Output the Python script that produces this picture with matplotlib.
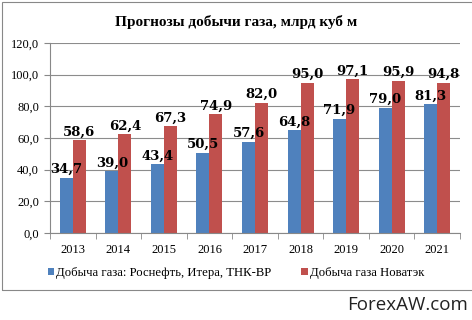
import matplotlib.pyplot as plt
import numpy as np
from matplotlib.patches import Rectangle

years = ['2013', '2014', '2015', '2016', '2017', '2018', '2019', '2020', '2021']
rosneft = [34.7, 39.0, 43.4, 50.5, 57.6, 64.8, 71.9, 79.0, 81.3]
novatek = [58.6, 62.4, 67.3, 74.9, 82.0, 95.0, 97.1, 95.9, 94.8]
yticks = [0, 20, 40, 60, 80, 100, 120]

blue = '#4F81BD'
red = '#C0504D'
serif = ['Liberation Serif', 'DejaVu Serif']
wide = ['DejaVu Serif']

fig = plt.figure(figsize=(4.72, 3.2), dpi=100)
ax = fig.add_axes([50/472, 1-233/320, 410/472, 190/320])

x = np.arange(len(years))
w = 0.285
ax.bar(x - w/2, rosneft, w, color=blue, label='Добыча газа: Роснефть, Итера, ТНК-ВР')
ax.bar(x + w/2, novatek, w, color=red, label='Добыча газа Новатэк')

for i in range(len(years)):
    ax.text(x[i] - w/2, rosneft[i] + 1.2, f'{rosneft[i]:.1f}'.replace('.', ','),
            ha='center', va='bottom', fontsize=9.5, fontweight='bold', family=wide)
    ax.text(x[i] + w/2, novatek[i] + 1.2, f'{novatek[i]:.1f}'.replace('.', ','),
            ha='center', va='bottom', fontsize=9.5, fontweight='bold', family=wide)

ax.set_xlim(-0.5, len(years) - 0.5)
ax.set_ylim(0, 120)
ax.set_yticks(yticks)
ax.set_yticklabels([f'{v:.1f}'.replace('.', ',') for v in yticks], family=serif, fontsize=9)
ax.set_xticks(x)
ax.set_xticklabels(years, family=serif, fontsize=9)
ax.set_xticks(np.arange(-0.5, len(years)), minor=True)
ax.tick_params(axis='x', which='major', length=0, pad=8)
ax.tick_params(axis='x', which='minor', length=4, color='#888888')
ax.tick_params(axis='y', length=4, color='#888888', pad=4)
ax.grid(axis='y', color='#8c8c8c', linewidth=0.8)
ax.set_axisbelow(True)
for s in ['top', 'right']:
    ax.spines[s].set_visible(False)
ax.spines['left'].set_color('#888888')
ax.spines['bottom'].set_color('#888888')

fig.text(0.5, 1 - 22/320, 'Прогнозы добычи газа, млрд куб м', ha='center', va='center',
         fontsize=11, fontweight='bold', family=serif)

fig.legend(loc='center', bbox_to_anchor=(0.5, 1 - 273/320), ncol=2, frameon=False,
           prop={'family': serif, 'size': 9.2}, handlelength=0.5, handleheight=0.5,
           handletextpad=0.2, columnspacing=2.3)

fig.patches.append(Rectangle((2/472, 1 - 290/320), 475/472, 288/320, transform=fig.transFigure,
                             fill=False, edgecolor='#888888', linewidth=0.8))
fig.text(468/472, 1 - 305/320, 'ForexAW.com', ha='right', va='center', fontsize=13.5,
         family=['Open Sans', 'DejaVu Sans'], color='#222222')

fig.savefig('out.png', dpi=100)
